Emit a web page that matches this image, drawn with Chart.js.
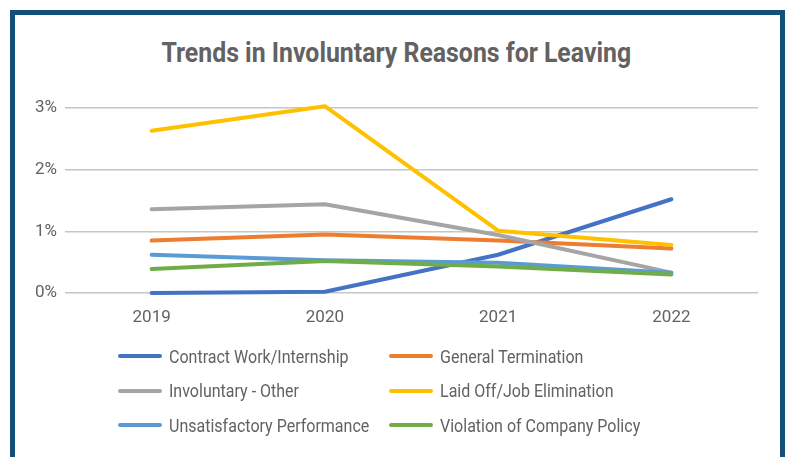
<!DOCTYPE html>
<html>
<head>
<meta charset="utf-8">
<script src="https://cdn.jsdelivr.net/npm/chart.js@4.4.0/dist/chart.umd.min.js"></script>
<style>
    body { margin: 0; background: #fff; font-family: Roboto, sans-serif; }
    #wrap { position: relative; width: 785px; height: 457px; overflow: hidden; }
    #frame { position: absolute; left: 10px; top: 10px; width: 775px; height: 470px; box-sizing: border-box; border: 5px solid #134f78; }
    #title { position: absolute; left: 4px; top: 40px; width: 785px; text-align: center; font: bold 27px Roboto; line-height: 27px; color: #626262; }
    #title span { display: inline-block; transform: scaleX(0.92); transform-origin: 50% 0; }
    #chartBox { position: absolute; left: 0; top: 0; width: 785px; height: 457px; }
    #legend { position: absolute; left: 118px; top: 339px; display: grid; grid-template-columns: 271px 271px; grid-auto-rows: 34.5px; }
    .item { display: flex; align-items: center; height: 34.5px; }
    .swatch { width: 44px; height: 4px; border-radius: 2px; margin-right: 7px; flex: none; }
    .label { font-size: 18px; color: #626262; white-space: nowrap; transform: scaleX(0.89); transform-origin: 0 50%; }
</style>
</head>
<body>
<div id="wrap">
    <div id="frame"></div>
    <div id="title"><span>Trends in Involuntary Reasons for Leaving</span></div>
    <div id="chartBox"><canvas id="myChart"></canvas></div>
    <div id="legend"></div>
</div>
<script>
const years = ['2019', '2020', '2021', '2022'];
const seriesNames = [
    'Contract Work/Internship',
    'General Termination',
    'Involuntary - Other',
    'Laid Off/Job Elimination',
    'Unsatisfactory Performance',
    'Violation of Company Policy'
];
const contractWork = [0.00, 0.02, 0.62, 1.52];
const generalTermination = [0.85, 0.95, 0.85, 0.72];
const involuntaryOther = [1.36, 1.44, 0.94, 0.33];
const laidOff = [2.63, 3.03, 1.01, 0.78];
const unsatisfactory = [0.62, 0.53, 0.49, 0.33];
const violation = [0.39, 0.52, 0.43, 0.30];
const yTicks = [0, 1, 2, 3];

const colors = ['#4472C4', '#ED7D31', '#A5A5A5', '#FFC000', '#5B9BD5', '#70AD47'];
const values = [contractWork, generalTermination, involuntaryOther, laidOff, unsatisfactory, violation];

const datasets = seriesNames.map(function(name, i) {
    return {
        label: name,
        data: values[i],
        borderColor: colors[i],
        backgroundColor: colors[i],
        borderWidth: 4,
        borderCapStyle: 'round',
        borderJoinStyle: 'round',
        pointRadius: 0,
        fill: false,
        tension: 0,
        order: -i // later series on top, like the original
    };
});

// legend built from the same series
const legend = document.getElementById('legend');
seriesNames.forEach(function(name, i) {
    const item = document.createElement('div');
    item.className = 'item';
    item.innerHTML = '<span class="swatch" style="background:' + colors[i] + '"></span><span class="label">' + name + '</span>';
    legend.appendChild(item);
});

const ctx = document.getElementById('myChart').getContext('2d');
new Chart(ctx, {
    type: 'line',
    data: {
        labels: years,
        datasets: datasets
    },
    options: {
        responsive: true,
        maintainAspectRatio: false,
        animation: false,
        clip: false,
        layout: {
            padding: { top: 108, right: 27, left: 0, bottom: 0 }
        },
        plugins: {
            legend: { display: false },
            title: { display: false },
            tooltip: { enabled: false }
        },
        scales: {
            x: {
                offset: true,
                grid: { display: false, drawTicks: false },
                border: { display: false },
                ticks: {
                    color: '#626262',
                    padding: 15,
                    font: { family: 'Roboto', size: 17 }
                },
                afterFit: function(scale) { scale.height = 164; }
            },
            y: {
                min: 0,
                max: 3,
                afterBuildTicks: function(scale) {
                    scale.ticks = yTicks.map(function(v) { return { value: v }; });
                },
                grid: { color: '#c6c6c6', lineWidth: 1.5, drawTicks: false },
                border: { display: false },
                ticks: {
                    color: '#626262',
                    padding: 8,
                    font: { family: 'Roboto', size: 17 },
                    callback: function(v) { return v + '%'; }
                },
                afterFit: function(scale) { scale.width = 65; }
            }
        }
    }
});
</script>
</body>
</html>
